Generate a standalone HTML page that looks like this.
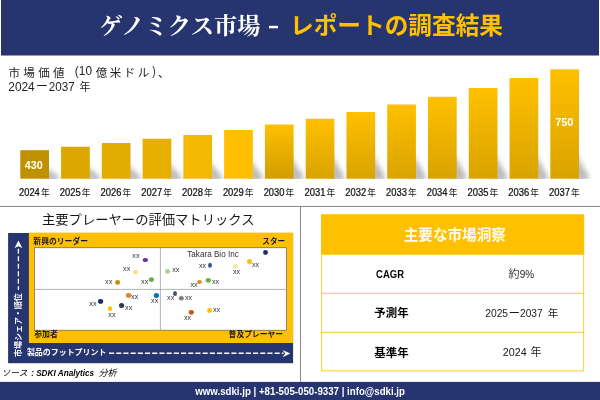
<!DOCTYPE html>
<html lang="ja"><head><meta charset="utf-8"><title>ゲノミクス市場 - レポートの調査結果</title>
<style>
html,body{margin:0;padding:0;background:#fff;}
body{width:600px;height:400px;overflow:hidden;font-family:"Liberation Sans","Noto Sans CJK JP",sans-serif;}
svg{display:block;position:absolute;left:0;top:0;will-change:transform;}
text{font-family:"Liberation Sans","Noto Sans CJK JP",sans-serif;}
</style></head><body>
<svg width="600" height="400" viewBox="0 0 600 400"><defs><filter id="bl" x="-50%" y="-50%" width="200%" height="200%"><feGaussianBlur stdDeviation="2.8"/></filter><linearGradient id="sh" x1="0" y1="0" x2="0" y2="1"><stop offset="0" stop-color="#777" stop-opacity="0"/><stop offset="1" stop-color="#777" stop-opacity="0.75"/></linearGradient><clipPath id="cs"><rect x="0" y="60" width="600" height="119.1"/></clipPath><linearGradient id="b0" x1="0" y1="0" x2="0" y2="1"><stop offset="0" stop-color="#bf9000"/><stop offset="1" stop-color="#bf9000"/></linearGradient><linearGradient id="b1" x1="0" y1="0" x2="0" y2="1"><stop offset="0" stop-color="#dca800"/><stop offset="1" stop-color="#dca800"/></linearGradient><linearGradient id="b2" x1="0" y1="0" x2="0" y2="1"><stop offset="0" stop-color="#e2ac00"/><stop offset="1" stop-color="#e2ac00"/></linearGradient><linearGradient id="b3" x1="0" y1="0" x2="0" y2="1"><stop offset="0" stop-color="#e7b000"/><stop offset="1" stop-color="#e7b000"/></linearGradient><linearGradient id="b4" x1="0" y1="0" x2="0" y2="1"><stop offset="0" stop-color="#f3b800"/><stop offset="1" stop-color="#f3b800"/></linearGradient><linearGradient id="b5" x1="0" y1="0" x2="0" y2="1"><stop offset="0" stop-color="#fdbf00"/><stop offset="1" stop-color="#fdbf00"/></linearGradient><linearGradient id="b6" x1="0" y1="0" x2="0" y2="1"><stop offset="0" stop-color="#ffc000"/><stop offset="1" stop-color="#d19d00"/></linearGradient><linearGradient id="b7" x1="0" y1="0" x2="0" y2="1"><stop offset="0" stop-color="#ffc000"/><stop offset="1" stop-color="#d9a300"/></linearGradient><linearGradient id="b8" x1="0" y1="0" x2="0" y2="1"><stop offset="0" stop-color="#ffc000"/><stop offset="1" stop-color="#d9a300"/></linearGradient><linearGradient id="b9" x1="0" y1="0" x2="0" y2="1"><stop offset="0" stop-color="#ffc000"/><stop offset="1" stop-color="#d9a300"/></linearGradient><linearGradient id="b10" x1="0" y1="0" x2="0" y2="1"><stop offset="0" stop-color="#ffc000"/><stop offset="1" stop-color="#d9a300"/></linearGradient><linearGradient id="b11" x1="0" y1="0" x2="0" y2="1"><stop offset="0" stop-color="#ffc000"/><stop offset="1" stop-color="#d9a300"/></linearGradient><linearGradient id="b12" x1="0" y1="0" x2="0" y2="1"><stop offset="0" stop-color="#ffc000"/><stop offset="1" stop-color="#d9a300"/></linearGradient><linearGradient id="b13" x1="0" y1="0" x2="0" y2="1"><stop offset="0" stop-color="#ffc000"/><stop offset="1" stop-color="#d9a300"/></linearGradient></defs><rect x="0" y="0" width="600" height="400" fill="#fff" />
<rect x="1" y="0" width="598" height="55.5" fill="#263470" />
<rect x="0" y="381.9" width="600" height="18.1" fill="#263470" />
<line x1="0" y1="206.45" x2="600" y2="206.45" stroke="#858585" stroke-width="1" />
<line x1="300.5" y1="206.5" x2="300.5" y2="381.6" stroke="#858585" stroke-width="1" />
<g aria-label="ゲノミクス市場"><text x="99.5" y="33.8" font-size="23" font-weight="bold" fill="#fff" textLength="161" lengthAdjust="spacingAndGlyphs" style="font-family:'Liberation Serif','Noto Serif CJK SC','Noto Sans CJK JP',serif;">ゲノミクス市場</text></g>
<rect x="269" y="25.8" width="9" height="2.5" fill="#fff" />
<g aria-label="レポートの調査結果"><text x="290" y="33.8" font-size="23.5" font-weight="bold" fill="#FFC000" textLength="213" lengthAdjust="spacingAndGlyphs">レポートの調査結果</text></g>
<g aria-label="市場価値"><text x="8.5" y="76.6" font-size="11.5" fill="#1f1f1f" textLength="56" lengthAdjust="spacing">市場価値</text></g>
<g aria-label="(10"><text transform="translate(74.86,75.33) scale(0.92,1)" font-family="Liberation Sans, sans-serif" font-size="12.88" fill="#1f1f1f" xml:space="preserve">(10</text></g>
<g aria-label="億米ドル"><text x="95.8" y="76.6" font-size="11.5" fill="#1f1f1f" textLength="53.5" lengthAdjust="spacing">億米ドル</text></g>
<g aria-label=")"><text transform="translate(152.24,75.33) scale(0.79,1)" font-family="Liberation Sans, sans-serif" font-size="12.88" fill="#1f1f1f" xml:space="preserve">)</text></g>
<g aria-label="、"><text x="158" y="76.6" font-size="11.5" fill="#1f1f1f">、</text></g>
<g aria-label="2024"><text transform="translate(8.3,90.78) scale(0.99,1)" font-family="Liberation Sans, sans-serif" font-size="12.01" fill="#1f1f1f" xml:space="preserve">2024</text></g>
<g aria-label="ー"><text x="36" y="90.8" font-size="12" fill="#1f1f1f">ー</text></g>
<g aria-label="2037"><text transform="translate(48.81,90.78) scale(0.97,1)" font-family="Liberation Sans, sans-serif" font-size="12.01" fill="#1f1f1f" xml:space="preserve">2037</text></g>
<g aria-label="年"><text x="79.5" y="90.8" font-size="11" fill="#1f1f1f">年</text></g>
<g clip-path="url(#cs)">
<path d="M46 166.73 L52 172.12 L58.5 175.7 L58.5 180.7 L46 180.7 Z" fill="#6a6a6a" fill-opacity="0.46" filter="url(#bl)"/>
<path d="M86.77 165.28 L92.77 171.32 L99.27 175.7 L99.27 180.7 L86.77 180.7 Z" fill="#6a6a6a" fill-opacity="0.46" filter="url(#bl)"/>
<path d="M127.54 163.71 L133.54 170.45 L140.04 175.7 L140.04 180.7 L127.54 180.7 Z" fill="#6a6a6a" fill-opacity="0.46" filter="url(#bl)"/>
<path d="M168.31 161.92 L174.31 169.47 L180.81 175.7 L180.81 180.7 L168.31 180.7 Z" fill="#6a6a6a" fill-opacity="0.46" filter="url(#bl)"/>
<path d="M209.08 160.35 L215.08 168.61 L221.58 175.7 L221.58 180.7 L209.08 180.7 Z" fill="#6a6a6a" fill-opacity="0.46" filter="url(#bl)"/>
<path d="M249.85 158.25 L255.85 167.45 L262.35 175.7 L262.35 180.7 L249.85 180.7 Z" fill="#6a6a6a" fill-opacity="0.46" filter="url(#bl)"/>
<path d="M290.62 155.94 L296.62 166.18 L303.12 175.7 L303.12 180.7 L290.62 180.7 Z" fill="#6a6a6a" fill-opacity="0.46" filter="url(#bl)"/>
<path d="M331.39 153.52 L337.39 164.85 L343.89 175.7 L343.89 180.7 L331.39 180.7 Z" fill="#6a6a6a" fill-opacity="0.46" filter="url(#bl)"/>
<path d="M372.16 152.7 L378.16 164.4 L384.66 175.7 L384.66 180.7 L372.16 180.7 Z" fill="#6a6a6a" fill-opacity="0.46" filter="url(#bl)"/>
<path d="M412.93 152.7 L418.93 164.4 L425.43 175.7 L425.43 180.7 L412.93 180.7 Z" fill="#6a6a6a" fill-opacity="0.46" filter="url(#bl)"/>
<path d="M453.7 152.7 L459.7 164.4 L466.2 175.7 L466.2 180.7 L453.7 180.7 Z" fill="#6a6a6a" fill-opacity="0.46" filter="url(#bl)"/>
<path d="M494.47 152.7 L500.47 164.4 L506.97 175.7 L506.97 180.7 L494.47 180.7 Z" fill="#6a6a6a" fill-opacity="0.46" filter="url(#bl)"/>
<path d="M535.24 152.7 L541.24 164.4 L547.74 175.7 L547.74 180.7 L535.24 180.7 Z" fill="#6a6a6a" fill-opacity="0.46" filter="url(#bl)"/>
<path d="M576.01 152.7 L582.01 164.4 L588.51 175.7 L588.51 180.7 L576.01 180.7 Z" fill="#6a6a6a" fill-opacity="0.46" filter="url(#bl)"/>
</g>
<rect x="20.3" y="150.2" width="28.7" height="28.5" fill="url(#b0)" />
<g aria-label="2024"><text transform="translate(19.03,195.9) scale(0.93,1)" font-family="Liberation Sans, sans-serif" font-size="10.03" fill="#111" stroke="#111" stroke-width="0.25" xml:space="preserve">2024</text></g>
<g aria-label="年"><text x="41" y="196" font-size="8.7" fill="#111">年</text></g>
<rect x="61.07" y="146.75" width="28.7" height="31.95" fill="url(#b1)" />
<g aria-label="2025"><text transform="translate(59.8,195.9) scale(0.94,1)" font-family="Liberation Sans, sans-serif" font-size="10.03" fill="#111" stroke="#111" stroke-width="0.25" xml:space="preserve">2025</text></g>
<g aria-label="年"><text x="81.77" y="196" font-size="8.7" fill="#111">年</text></g>
<rect x="101.84" y="143" width="28.7" height="35.7" fill="url(#b2)" />
<g aria-label="2026"><text transform="translate(100.57,195.9) scale(0.94,1)" font-family="Liberation Sans, sans-serif" font-size="10.03" fill="#111" stroke="#111" stroke-width="0.25" xml:space="preserve">2026</text></g>
<g aria-label="年"><text x="122.54" y="196" font-size="8.7" fill="#111">年</text></g>
<rect x="142.61" y="138.75" width="28.7" height="39.95" fill="url(#b3)" />
<g aria-label="2027"><text transform="translate(141.34,195.9) scale(0.94,1)" font-family="Liberation Sans, sans-serif" font-size="10.03" fill="#111" stroke="#111" stroke-width="0.25" xml:space="preserve">2027</text></g>
<g aria-label="年"><text x="163.31" y="196" font-size="8.7" fill="#111">年</text></g>
<rect x="183.38" y="135" width="28.7" height="43.7" fill="url(#b4)" />
<g aria-label="2028"><text transform="translate(182.11,195.9) scale(0.94,1)" font-family="Liberation Sans, sans-serif" font-size="10.03" fill="#111" stroke="#111" stroke-width="0.25" xml:space="preserve">2028</text></g>
<g aria-label="年"><text x="204.08" y="196" font-size="8.7" fill="#111">年</text></g>
<rect x="224.15" y="130" width="28.7" height="48.7" fill="url(#b5)" />
<g aria-label="2029"><text transform="translate(222.88,195.9) scale(0.94,1)" font-family="Liberation Sans, sans-serif" font-size="10.03" fill="#111" stroke="#111" stroke-width="0.25" xml:space="preserve">2029</text></g>
<g aria-label="年"><text x="244.85" y="196" font-size="8.7" fill="#111">年</text></g>
<rect x="264.92" y="124.5" width="28.7" height="54.2" fill="url(#b6)" />
<g aria-label="2030"><text transform="translate(263.65,195.9) scale(0.93,1)" font-family="Liberation Sans, sans-serif" font-size="10.03" fill="#111" stroke="#111" stroke-width="0.25" xml:space="preserve">2030</text></g>
<g aria-label="年"><text x="285.62" y="196" font-size="8.7" fill="#111">年</text></g>
<rect x="305.69" y="118.75" width="28.7" height="59.95" fill="url(#b7)" />
<g aria-label="2031"><text transform="translate(304.42,195.9) scale(0.94,1)" font-family="Liberation Sans, sans-serif" font-size="10.03" fill="#111" stroke="#111" stroke-width="0.25" xml:space="preserve">2031</text></g>
<g aria-label="年"><text x="326.39" y="196" font-size="8.7" fill="#111">年</text></g>
<rect x="346.46" y="112" width="28.7" height="66.7" fill="url(#b8)" />
<g aria-label="2032"><text transform="translate(345.19,195.9) scale(0.94,1)" font-family="Liberation Sans, sans-serif" font-size="10.03" fill="#111" stroke="#111" stroke-width="0.25" xml:space="preserve">2032</text></g>
<g aria-label="年"><text x="367.16" y="196" font-size="8.7" fill="#111">年</text></g>
<rect x="387.23" y="104.5" width="28.7" height="74.2" fill="url(#b9)" />
<g aria-label="2033"><text transform="translate(385.96,195.9) scale(0.94,1)" font-family="Liberation Sans, sans-serif" font-size="10.03" fill="#111" stroke="#111" stroke-width="0.25" xml:space="preserve">2033</text></g>
<g aria-label="年"><text x="407.93" y="196" font-size="8.7" fill="#111">年</text></g>
<rect x="428" y="96.8" width="28.7" height="81.9" fill="url(#b10)" />
<g aria-label="2034"><text transform="translate(426.73,195.9) scale(0.93,1)" font-family="Liberation Sans, sans-serif" font-size="10.03" fill="#111" stroke="#111" stroke-width="0.25" xml:space="preserve">2034</text></g>
<g aria-label="年"><text x="448.7" y="196" font-size="8.7" fill="#111">年</text></g>
<rect x="468.77" y="88" width="28.7" height="90.7" fill="url(#b11)" />
<g aria-label="2035"><text transform="translate(467.5,195.9) scale(0.94,1)" font-family="Liberation Sans, sans-serif" font-size="10.03" fill="#111" stroke="#111" stroke-width="0.25" xml:space="preserve">2035</text></g>
<g aria-label="年"><text x="489.47" y="196" font-size="8.7" fill="#111">年</text></g>
<rect x="509.54" y="78" width="28.7" height="100.7" fill="url(#b12)" />
<g aria-label="2036"><text transform="translate(508.27,195.9) scale(0.94,1)" font-family="Liberation Sans, sans-serif" font-size="10.03" fill="#111" stroke="#111" stroke-width="0.25" xml:space="preserve">2036</text></g>
<g aria-label="年"><text x="530.24" y="196" font-size="8.7" fill="#111">年</text></g>
<rect x="550.31" y="69.3" width="28.7" height="109.4" fill="url(#b13)" />
<g aria-label="2037"><text transform="translate(549.04,195.9) scale(0.94,1)" font-family="Liberation Sans, sans-serif" font-size="10.03" fill="#111" stroke="#111" stroke-width="0.25" xml:space="preserve">2037</text></g>
<g aria-label="年"><text x="571.01" y="196" font-size="8.7" fill="#111">年</text></g>
<g aria-label="430"><text transform="translate(24.84,169.17) scale(0.92,1)" font-family="Liberation Sans, sans-serif" font-size="11.7" fill="#fff" font-weight="bold" xml:space="preserve">430</text></g>
<g aria-label="750"><text transform="translate(555.13,125.9) scale(1.04,1)" font-family="Liberation Sans, sans-serif" font-size="10.59" fill="#fff" font-weight="bold" xml:space="preserve">750</text></g>
<g aria-label="主要プレーヤーの評価マトリックス"><text x="42" y="224.3" font-size="13" fill="#161616" textLength="212.5" lengthAdjust="spacingAndGlyphs">主要プレーヤーの評価マトリックス</text></g>
<rect x="8.1" y="233" width="285" height="130.2" fill="#263470" />
<rect x="28.9" y="232.6" width="264.2" height="110.4" fill="#FFC000" />
<rect x="34.4" y="247.8" width="252.2" height="82.4" fill="#fff" stroke="#4d4d4d" stroke-width="0.6"/>
<line x1="160.4" y1="247.8" x2="160.4" y2="330.2" stroke="#a0a0a0" stroke-width="0.8" />
<line x1="34.4" y1="289.4" x2="286.6" y2="289.4" stroke="#a0a0a0" stroke-width="0.8" />
<g aria-label="新興のリーダー"><text x="33.3" y="244.2" font-size="7.8" font-weight="bold" fill="#1a1a1a" textLength="54.8" lengthAdjust="spacingAndGlyphs">新興のリーダー</text></g>
<g aria-label="スター"><text x="262.3" y="243.5" font-size="7.6" font-weight="bold" fill="#1a1a1a" textLength="22.8" lengthAdjust="spacingAndGlyphs">スター</text></g>
<g aria-label="参加者"><text x="34.2" y="337.2" font-size="7.8" font-weight="bold" fill="#1a1a1a" textLength="23.7" lengthAdjust="spacingAndGlyphs">参加者</text></g>
<g aria-label="普及プレーヤー"><text x="228.6" y="337" font-size="7.8" font-weight="bold" fill="#1a1a1a" textLength="54.5" lengthAdjust="spacingAndGlyphs">普及プレーヤー</text></g>
<g aria-label="製品のフットプリント"><text x="26.9" y="354.9" font-size="7.9" font-weight="bold" fill="#fff" textLength="79.5" lengthAdjust="spacingAndGlyphs">製品のフットプリント</text></g>
<g aria-label="市場シェア・順位"><text transform="translate(0,356.9) rotate(-90)" x="0" y="20.6" font-size="8" font-weight="bold" fill="#fff" textLength="63.6" lengthAdjust="spacingAndGlyphs">市場シェア・順位</text></g>
<line x1="18.4" y1="248.8" x2="18.4" y2="290" stroke="#fff" stroke-width="1.3" stroke-dasharray="5 2.5"/>
<path d="M18.4 240.5 L22.3 248.1 L18.4 246.3 L14.5 248.1 Z" fill="#fff"/>
<line x1="109" y1="353.3" x2="283.5" y2="353.3" stroke="#fff" stroke-width="1.4" stroke-dasharray="5.1 2.1"/>
<path d="M290.3 353.6 L282.6 357.3 L285.2 353.6 L282.6 349.9 Z" fill="#fff"/>
<ellipse cx="145.4" cy="260" rx="2.7" ry="2.1" fill="#7030a0"/>
<ellipse cx="135.4" cy="272" rx="2.5" ry="2.1" fill="#f3e07c"/>
<ellipse cx="117.6" cy="282.4" rx="2.5" ry="2.3" fill="#bf9000"/>
<ellipse cx="151.4" cy="279.6" rx="2.6" ry="2.4" fill="#70ad47"/>
<ellipse cx="167.6" cy="271.4" rx="2.5" ry="2.3" fill="#a9d18e"/>
<ellipse cx="128.6" cy="295.4" rx="2.7" ry="2.4" fill="#ed7d31"/>
<ellipse cx="156.4" cy="295.4" rx="2.6" ry="2.5" fill="#0070c0"/>
<ellipse cx="100.6" cy="301.4" rx="2.6" ry="2.4" fill="#1f2a6b"/>
<ellipse cx="121.6" cy="305.4" rx="2.6" ry="2.5" fill="#2e3a52"/>
<ellipse cx="110" cy="308.6" rx="2.1" ry="2.6" fill="#ffc000"/>
<ellipse cx="175" cy="293.4" rx="2.0" ry="2.5" fill="#44546a"/>
<ellipse cx="265.5" cy="252.5" rx="2.4" ry="2.4" fill="#1f2a6b"/>
<ellipse cx="249.5" cy="261.5" rx="2.5" ry="2.5" fill="#ffc000"/>
<ellipse cx="235.5" cy="266.3" rx="2.5" ry="2.5" fill="#fbe5a0"/>
<ellipse cx="210" cy="265.2" rx="1.9" ry="2.5" fill="#2f5597"/>
<ellipse cx="208.3" cy="280.3" rx="2.6" ry="2.4" fill="#70ad47"/>
<ellipse cx="199.5" cy="282" rx="2.4" ry="2.0" fill="#ed7d31"/>
<ellipse cx="181.3" cy="298.3" rx="2.5" ry="2.3" fill="#7f7f7f"/>
<ellipse cx="209.5" cy="310.5" rx="2.5" ry="2.4" fill="#ffc000"/>
<ellipse cx="191.3" cy="312.3" rx="2.6" ry="2.4" fill="#c55a11"/>
<g aria-label="xx"><text transform="translate(132.32,257.9) scale(1,1)" font-family="Liberation Sans, sans-serif" font-size="7.19" fill="#333" xml:space="preserve">xx</text></g>
<g aria-label="xx"><text transform="translate(123.12,270.9) scale(1,1)" font-family="Liberation Sans, sans-serif" font-size="7.19" fill="#333" xml:space="preserve">xx</text></g>
<g aria-label="xx"><text transform="translate(105.12,284.3) scale(1,1)" font-family="Liberation Sans, sans-serif" font-size="7.19" fill="#333" xml:space="preserve">xx</text></g>
<g aria-label="xx"><text transform="translate(141.12,284.3) scale(1,1)" font-family="Liberation Sans, sans-serif" font-size="7.19" fill="#333" xml:space="preserve">xx</text></g>
<g aria-label="xx"><text transform="translate(131.12,299.3) scale(1,1)" font-family="Liberation Sans, sans-serif" font-size="7.19" fill="#333" xml:space="preserve">xx</text></g>
<g aria-label="xx"><text transform="translate(151.12,302.9) scale(1,1)" font-family="Liberation Sans, sans-serif" font-size="7.19" fill="#333" xml:space="preserve">xx</text></g>
<g aria-label="xx"><text transform="translate(89.32,306.3) scale(1,1)" font-family="Liberation Sans, sans-serif" font-size="7.19" fill="#333" xml:space="preserve">xx</text></g>
<g aria-label="xx"><text transform="translate(125.12,310.3) scale(1,1)" font-family="Liberation Sans, sans-serif" font-size="7.19" fill="#333" xml:space="preserve">xx</text></g>
<g aria-label="xx"><text transform="translate(108.32,317.3) scale(1,1)" font-family="Liberation Sans, sans-serif" font-size="7.19" fill="#333" xml:space="preserve">xx</text></g>
<g aria-label="xx"><text transform="translate(167.12,300.3) scale(1,1)" font-family="Liberation Sans, sans-serif" font-size="7.19" fill="#333" xml:space="preserve">xx</text></g>
<g aria-label="xx"><text transform="translate(172.22,272.3) scale(1,1)" font-family="Liberation Sans, sans-serif" font-size="7.19" fill="#333" xml:space="preserve">xx</text></g>
<g aria-label="xx"><text transform="translate(198.92,267.7) scale(1,1)" font-family="Liberation Sans, sans-serif" font-size="7.19" fill="#333" xml:space="preserve">xx</text></g>
<g aria-label="xx"><text transform="translate(251.92,267.4) scale(1,1)" font-family="Liberation Sans, sans-serif" font-size="7.19" fill="#333" xml:space="preserve">xx</text></g>
<g aria-label="xx"><text transform="translate(232.92,273.7) scale(1,1)" font-family="Liberation Sans, sans-serif" font-size="7.19" fill="#333" xml:space="preserve">xx</text></g>
<g aria-label="xx"><text transform="translate(211.92,283.9) scale(1,1)" font-family="Liberation Sans, sans-serif" font-size="7.19" fill="#333" xml:space="preserve">xx</text></g>
<g aria-label="xx"><text transform="translate(190.42,286.9) scale(1,1)" font-family="Liberation Sans, sans-serif" font-size="7.19" fill="#333" xml:space="preserve">xx</text></g>
<g aria-label="xx"><text transform="translate(184.92,299.9) scale(1,1)" font-family="Liberation Sans, sans-serif" font-size="7.19" fill="#333" xml:space="preserve">xx</text></g>
<g aria-label="xx"><text transform="translate(212.92,311.9) scale(1,1)" font-family="Liberation Sans, sans-serif" font-size="7.19" fill="#333" xml:space="preserve">xx</text></g>
<g aria-label="xx"><text transform="translate(183.92,319.9) scale(1,1)" font-family="Liberation Sans, sans-serif" font-size="7.19" fill="#333" xml:space="preserve">xx</text></g>
<g aria-label="Takara Bio Inc"><text transform="translate(187.22,257.4) scale(0.82,1)" font-family="Liberation Sans, sans-serif" font-size="9.94" fill="#303030" xml:space="preserve">Takara Bio Inc</text></g>
<g aria-label="ソース"><text x="1.5" y="376" font-size="8.5" font-style="italic" fill="#000" textLength="26" lengthAdjust="spacingAndGlyphs">ソース</text></g>
<g aria-label=": SDKI Analytics"><text transform="translate(31.14,376.02) scale(0.86,1)" font-family="Liberation Sans, sans-serif" font-size="9.55" fill="#000" font-weight="bold" font-style="italic" xml:space="preserve">: SDKI Analytics</text></g>
<g aria-label="分析"><text x="98.4" y="376.3" font-size="9" font-style="italic" fill="#000" textLength="18.2" lengthAdjust="spacingAndGlyphs">分析</text></g>
<g aria-label="www.sdki.jp | +81-505-050-9337 | info@sdki.jp"><text transform="translate(195.23,394.77) scale(0.85,1)" font-family="Liberation Sans, sans-serif" font-size="11.41" fill="#fff" font-weight="bold" xml:space="preserve">www.sdki.jp | +81-505-050-9337 | info@sdki.jp</text></g>
<rect x="321" y="214.2" width="263.2" height="40.1" fill="#FFC000" />
<rect x="321.7" y="254.3" width="262" height="116.6" fill="none" stroke="#ffc000" stroke-width="0.8"/>
<line x1="321.5" y1="293.3" x2="584" y2="293.3" stroke="#fbc520" stroke-width="0.95" />
<line x1="321.5" y1="332.3" x2="584" y2="332.3" stroke="#fbc520" stroke-width="0.95" />
<g aria-label="主要な市場洞察"><text x="403.8" y="239.8" font-size="14.5" font-weight="bold" fill="#fffdf2" textLength="102" lengthAdjust="spacingAndGlyphs">主要な市場洞察</text></g>
<g aria-label="CAGR"><text transform="translate(376.11,278.19) scale(0.84,1)" font-family="Liberation Sans, sans-serif" font-size="11.3" fill="#000" font-weight="bold" xml:space="preserve">CAGR</text></g>
<g aria-label="約"><text x="508.5" y="278.3" font-size="11" fill="#3a3a3a">約</text></g>
<g aria-label="9%"><text transform="translate(519.74,278.29) scale(0.86,1)" font-family="Liberation Sans, sans-serif" font-size="11.58" fill="#1a1a1a" xml:space="preserve">9%</text></g>
<g aria-label="予測年"><text x="374.3" y="317.3" font-size="11.5" font-weight="bold" fill="#000" textLength="34.3" lengthAdjust="spacingAndGlyphs">予測年</text></g>
<g aria-label="2025"><text transform="translate(485.18,316.79) scale(0.89,1)" font-family="Liberation Sans, sans-serif" font-size="11.58" fill="#1a1a1a" xml:space="preserve">2025</text></g>
<g aria-label="ー"><text x="508.5" y="316.8" font-size="11.5" fill="#1a1a1a">ー</text></g>
<g aria-label="2037"><text transform="translate(519.99,316.79) scale(0.88,1)" font-family="Liberation Sans, sans-serif" font-size="11.58" fill="#1a1a1a" xml:space="preserve">2037</text></g>
<g aria-label="年"><text x="547.7" y="316.9" font-size="10.6" fill="#1a1a1a">年</text></g>
<g aria-label="基準年"><text x="374.3" y="356.7" font-size="11.5" font-weight="bold" fill="#000" textLength="34.3" lengthAdjust="spacingAndGlyphs">基準年</text></g>
<g aria-label="2024"><text transform="translate(502.71,355.69) scale(0.94,1)" font-family="Liberation Sans, sans-serif" font-size="11.44" fill="#1a1a1a" xml:space="preserve">2024</text></g>
<g aria-label="年"><text x="530.5" y="355.9" font-size="10.9" fill="#1a1a1a">年</text></g></svg>
</body></html>
